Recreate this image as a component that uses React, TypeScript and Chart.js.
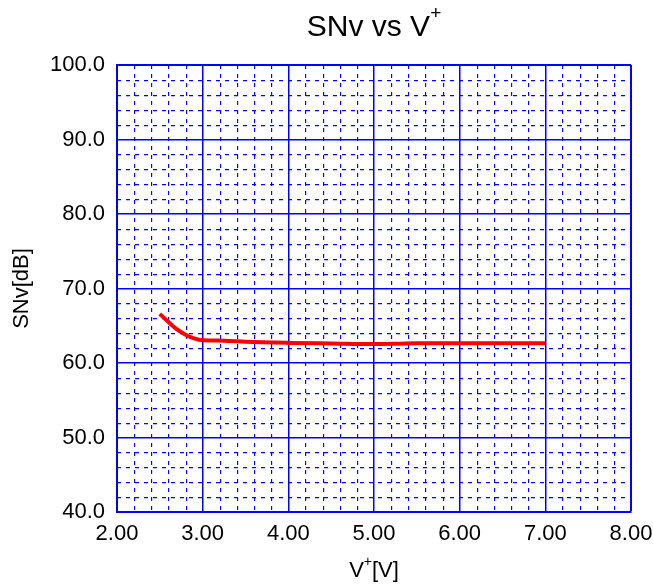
import React, { useEffect, useRef } from 'react';
import { Chart, registerables } from 'chart.js';

Chart.register(...registerables);

const voltage = [2.5, 2.6, 2.7, 2.8, 2.9, 3.0, 3.25, 3.5, 4.0, 4.5, 5.0, 5.3, 5.5, 6.0, 6.5, 7.0];
const snv = [66.6, 65.5, 64.5, 63.8, 63.3, 63.05, 63.0, 62.85, 62.7, 62.62, 62.55, 62.6, 62.65, 62.65, 62.65, 62.65];

const X_MIN = 2;
const X_MAX = 8;
const X_MAJOR = 1;
const X_MINOR_DIV = 5;
const Y_MIN = 40;
const Y_MAX = 100;
const Y_MAJOR = 10;
const Y_MINOR_DIV = 5;

const TITLE_MAIN = 'SNv vs V';
const TITLE_SUP = '+';
const X_TITLE_A = 'V';
const X_TITLE_SUP = '+';
const X_TITLE_B = '[V]';
const Y_TITLE = 'SNv[dB]';

const FONT = '"Liberation Sans", Arial, Helvetica, sans-serif';
const BLUE = '#0000ff';

const minorGridPlugin = {
  id: 'minorGrid',
  beforeDatasetsDraw(chart: any) {
    const { ctx, chartArea, scales } = chart;
    const xs = scales.x;
    const ys = scales.y;
    ctx.save();
    ctx.strokeStyle = BLUE;
    ctx.lineWidth = 1.15;
    ctx.setLineDash([4, 5]);
    const xStep = X_MAJOR / X_MINOR_DIV;
    for (let i = 1; i < Math.round((X_MAX - X_MIN) / xStep); i++) {
      if (i % X_MINOR_DIV === 0) continue;
      const v = X_MIN + i * xStep;
      const px = Math.round(xs.getPixelForValue(v)) + 0.6;
      ctx.beginPath();
      ctx.moveTo(px, chartArea.top);
      ctx.lineTo(px, chartArea.bottom);
      ctx.stroke();
    }
    const yStep = Y_MAJOR / Y_MINOR_DIV;
    for (let i = 1; i < Math.round((Y_MAX - Y_MIN) / yStep); i++) {
      if (i % Y_MINOR_DIV === 0) continue;
      const v = Y_MIN + i * yStep;
      const py = Math.round(ys.getPixelForValue(v)) + 0.6;
      ctx.beginPath();
      ctx.moveTo(chartArea.left, py);
      ctx.lineTo(chartArea.right, py);
      ctx.stroke();
    }
    ctx.restore();
  },
};

const titlesPlugin = {
  id: 'customTitles',
  afterDraw(chart: any) {
    const { ctx, chartArea } = chart;
    const cx = (chartArea.left + chartArea.right) / 2;
    ctx.save();
    ctx.fillStyle = '#000';
    ctx.textBaseline = 'alphabetic';
    ctx.textAlign = 'left';
    ctx.font = `30px ${FONT}`;
    const w1 = ctx.measureText(TITLE_MAIN).width;
    ctx.font = `19px ${FONT}`;
    const w2 = ctx.measureText(TITLE_SUP).width;
    let x0 = cx - (w1 + w2) / 2;
    ctx.font = `30px ${FONT}`;
    ctx.fillText(TITLE_MAIN, x0, 36);
    ctx.font = `19px ${FONT}`;
    ctx.fillText(TITLE_SUP, x0 + w1, 19);
    ctx.font = `22px ${FONT}`;
    const a = ctx.measureText(X_TITLE_A).width;
    const b = ctx.measureText(X_TITLE_B).width;
    ctx.font = `14px ${FONT}`;
    const s = ctx.measureText(X_TITLE_SUP).width;
    x0 = cx - (a + s + b) / 2;
    ctx.font = `22px ${FONT}`;
    ctx.fillText(X_TITLE_A, x0, 577);
    ctx.fillText(X_TITLE_B, x0 + a + s, 577);
    ctx.font = `14px ${FONT}`;
    ctx.fillText(X_TITLE_SUP, x0 + a, 566);
    ctx.restore();
  },
};

export default function App() {
  const canvasRef = useRef<HTMLCanvasElement | null>(null);

  useEffect(() => {
    const canvas = canvasRef.current;
    if (!canvas) return;
    const points = voltage.map((v, i) => ({ x: v, y: snv[i] }));
    const chart = new Chart(canvas, {
      type: 'line',
      data: {
        datasets: [
          {
            data: points,
            borderColor: '#ff0000',
            backgroundColor: '#ff0000',
            borderWidth: 4,
            pointRadius: 0,
            cubicInterpolationMode: 'monotone',
            fill: false,
          },
        ],
      },
      options: {
        animation: false,
        responsive: false,
        devicePixelRatio: 1,
        layout: { padding: { top: 65, right: 22, left: 0, bottom: 0 } },
        plugins: {
          legend: { display: false },
          title: { display: false },
          tooltip: { enabled: false },
        },
        scales: {
          x: {
            type: 'linear',
            min: X_MIN,
            max: X_MAX,
            afterFit: (scale: any) => {
              scale.height = 75;
              scale.paddingLeft = 0;
              scale.paddingRight = 0;
            },
            ticks: {
              stepSize: X_MAJOR,
              color: '#000',
              font: { family: FONT, size: 22 },
              padding: 9,
              maxRotation: 0,
              callback: (v: any) => Number(v).toFixed(2),
            },
            grid: {
              color: BLUE,
              drawTicks: false,
              lineWidth: (ctx: any) => (ctx.tick && ctx.tick.value === X_MAX ? 2 : 1.5),
            },
            border: { display: true, color: BLUE, width: 2 },
          },
          y: {
            type: 'linear',
            min: Y_MIN,
            max: Y_MAX,
            afterFit: (scale: any) => {
              scale.width = 117;
              scale.paddingTop = 0;
              scale.paddingBottom = 0;
            },
            ticks: {
              stepSize: Y_MAJOR,
              color: '#000',
              font: { family: FONT, size: 22 },
              padding: 12,
              callback: (v: any) => Number(v).toFixed(1),
            },
            grid: {
              color: BLUE,
              drawTicks: false,
              lineWidth: (ctx: any) => (ctx.tick && ctx.tick.value === Y_MAX ? 2 : 1.5),
            },
            border: { display: true, color: BLUE, width: 2 },
            title: {
              display: true,
              text: Y_TITLE,
              color: '#000',
              font: { family: FONT, size: 22 },
              padding: { top: 9, bottom: 0 },
            },
          },
        },
      },
      plugins: [minorGridPlugin, titlesPlugin],
    } as any);
    return () => chart.destroy();
  }, []);

  return (
    <div style={{ position: 'absolute', left: 0, top: 0, width: 653, height: 587, background: '#fff' }}>
      <canvas ref={canvasRef} width={653} height={587} style={{ width: 653, height: 587, display: 'block' }} />
    </div>
  );
}
